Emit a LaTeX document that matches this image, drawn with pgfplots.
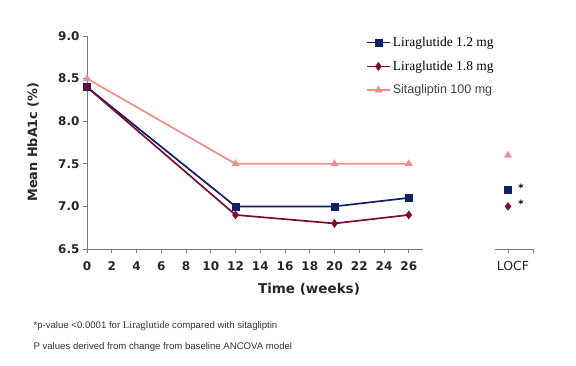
\documentclass[border=0pt]{standalone}
\usepackage{pgfplots}
\pgfplotsset{compat=1.18}
\usepackage{fontspec}
\setmainfont{DejaVu Sans}
\newfontfamily\tnr{Liberation Serif}
\newfontfamily\arial{Liberation Sans}
\definecolor{navy}{RGB}{16,32,100}
\definecolor{plum}{RGB}{125,10,55}
\definecolor{salmon}{RGB}{240,140,140}
\definecolor{axgray}{RGB}{120,120,120}
\begin{document}
\begin{tikzpicture}[x=1pt,y=1pt]
\path[use as bounding box] (0,0) rectangle (576,365);
\begin{axis}[
  at={(87pt,116pt)}, anchor=south west,
  scale only axis, width=336pt, height=213pt,
  xmin=0, xmax=27.15, ymin=6.5, ymax=9.0,
  axis x line*=bottom, axis y line*=left,
  axis line style={axgray, -, line width=0.8pt},
  xtick={0,2,...,26}, ytick={6.5,7.0,...,9.0},
  yticklabel style={/pgf/number format/.cd, fixed, fixed zerofill, precision=1},
  xticklabel style={yshift=-5pt},
  /pgf/number format/assume math mode=true,
  tick style={axgray, line width=0.8pt},
  tick align=outside, major tick length=4pt,
  ticklabel style={font=\bfseries\fontsize{12}{14}\selectfont, text=black!85},
  legend image code/.code={\draw[mark repeat=2,mark phase=2] plot coordinates {(0pt,0pt) (11.5pt,0pt) (23pt,0pt)};},
  legend style={at={(0.83,1.005)}, anchor=north west, draw=none, fill=none,
    row sep=9pt, font=\fontsize{13}{15}\selectfont, inner sep=0pt},
  legend cell align=left,
  clip=false,
]
\addplot[navy, line width=1.7pt, mark=square*, mark size=3.5pt, mark options={fill=navy, line width=0.5pt}] coordinates {(0,8.4) (12,7.0) (20,7.0) (26,7.1)};
\addlegendentry{\tnr\fontsize{13.5}{15}\selectfont Liraglutide 1.2 mg}
\addplot[plum, line width=1.7pt, mark=diamond*, mark size=4pt, mark options={fill=plum, line width=0.5pt}] coordinates {(0,8.4) (12,6.9) (20,6.8) (26,6.9)};
\addlegendentry{\tnr\fontsize{13.5}{15}\selectfont Liraglutide 1.8 mg}
\addplot[salmon, line width=1.7pt, mark=triangle*, mark size=4pt, mark options={fill=salmon, line width=0.5pt}] coordinates {(0,8.5) (12,7.5) (20,7.5) (26,7.5)};
\addlegendentry{\arial\fontsize{12.5}{15}\selectfont\color{black!75} Sitagliptin 100 mg}
\end{axis}
\begin{axis}[
  at={(495pt,116pt)}, anchor=south west,
  scale only axis, width=38pt, height=213pt,
  xmin=-1, xmax=1.92, ymin=6.5, ymax=9.0,
  axis x line*=bottom, axis y line=none,
  axis line style={axgray, -, line width=0.8pt},
  xtick={0,1.92}, xticklabels={LOCF,},
  xticklabel style={yshift=-5pt, xshift=5pt},
  tick style={axgray, line width=0.8pt},
  tick align=outside, major tick length=4pt,
  ticklabel style={font=\fontsize{12.5}{14}\selectfont, text=black!85},
  clip=false,
]
\addplot[only marks, salmon, mark=triangle*, mark size=4pt, mark options={fill=salmon}] coordinates {(0,7.6)};
\addplot[only marks, navy, mark=square*, mark size=3.5pt, mark options={fill=navy}] coordinates {(0,7.2)};
\addplot[only marks, plum, mark=diamond*, mark size=4pt, mark options={fill=plum}] coordinates {(0,7.0)};
\node[font=\bfseries\fontsize{10}{12}\selectfont] at (axis cs:1.0,7.22) {*};
\node[font=\bfseries\fontsize{10}{12}\selectfont] at (axis cs:1.0,7.03) {*};
\end{axis}
\node[rotate=90, font=\bfseries\fontsize{12.8}{14}\selectfont, text=black!85] at (33,223) {Mean HbA1c (\%)};
\node[font=\bfseries\fontsize{13.5}{15}\selectfont, text=black!85] at (309,76) {Time (weeks)};
\node[anchor=west, font=\arial\fontsize{9.6}{11}\selectfont, text=black!80] at (30,39) {*p-value <0.0001 for {\tnr\fontsize{10.5}{11}\selectfont Liraglutide} compared with sitagliptin};
\node[anchor=west, font=\arial\fontsize{9.6}{11}\selectfont, text=black!80] at (30,18) {P values derived from change from baseline ANCOVA model};
\end{tikzpicture}
\end{document}
